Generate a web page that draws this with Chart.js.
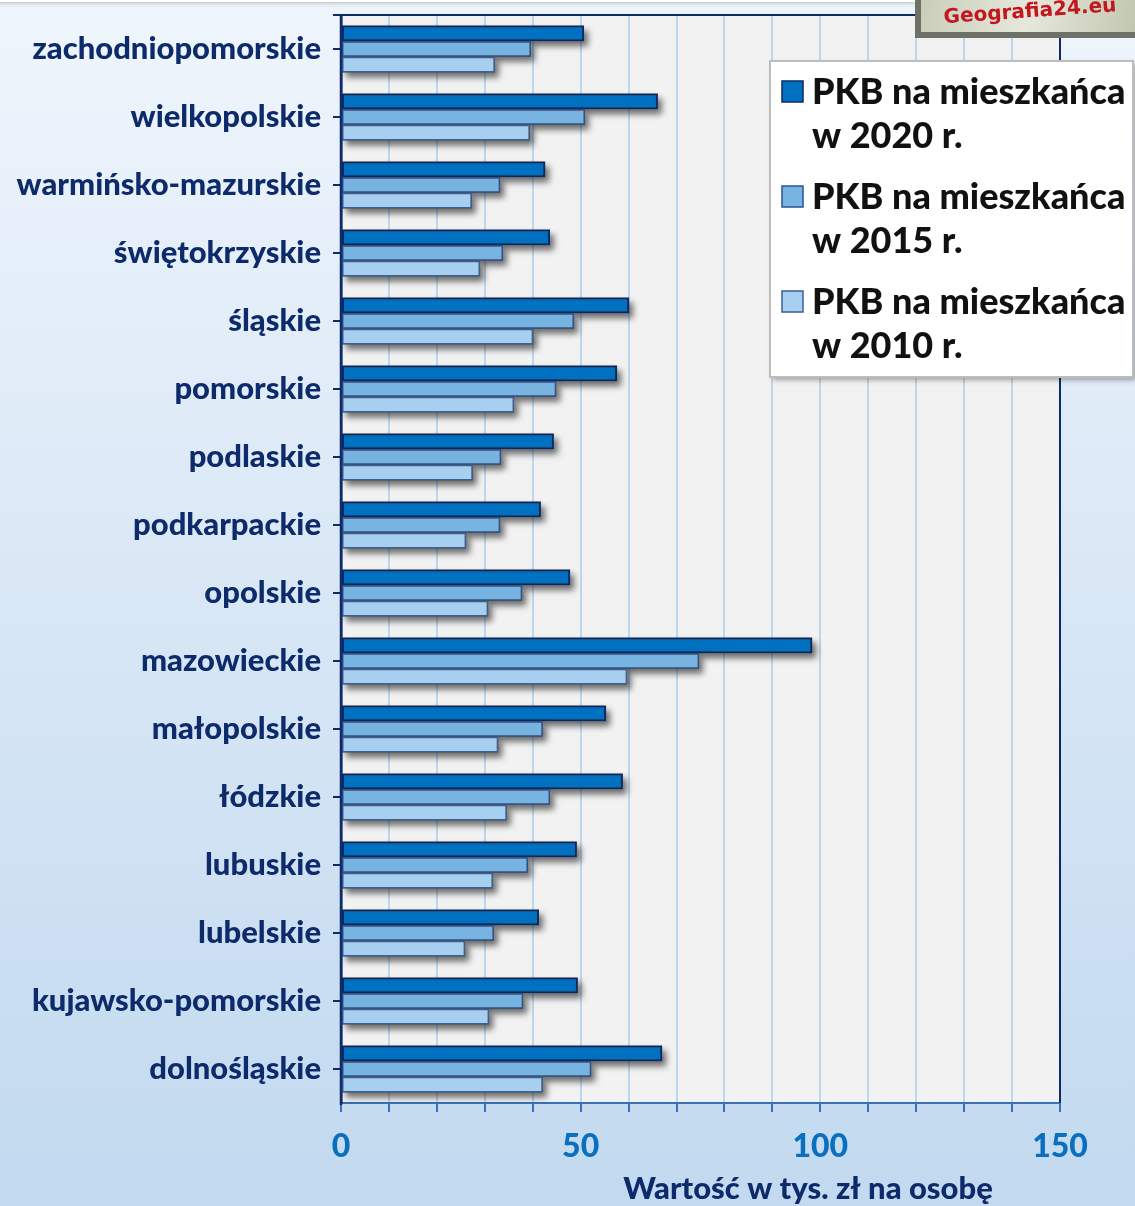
<!DOCTYPE html>
<html>
<head>
<meta charset="utf-8">
<script src="https://cdn.jsdelivr.net/npm/chart.js@4.4.1/dist/chart.umd.min.js"></script>
<style>
    html, body { margin: 0; padding: 0; background: #dfeaf6; }
    #wrap { width: 1135px; height: 1206px; }
</style>
</head>
<body>
<div id="wrap"><canvas id="chart" width="1135" height="1206"></canvas></div>
<script>
// dane - PKB na mieszkańca (tys. zł)
const regions = [
    'zachodniopomorskie', 'wielkopolskie', 'warmińsko-mazurskie', 'świętokrzyskie',
    'śląskie', 'pomorskie', 'podlaskie', 'podkarpackie', 'opolskie', 'mazowieckie',
    'małopolskie', 'łódzkie', 'lubuskie', 'lubelskie', 'kujawsko-pomorskie', 'dolnośląskie'
];
const pkb2020 = [50.7, 66.1, 42.6, 43.6, 60.1, 57.6, 44.4, 41.7, 47.8, 98.3, 55.3, 58.8, 49.2, 41.3, 49.4, 67.0];
const pkb2015 = [39.6, 50.9, 33.2, 33.8, 48.6, 44.9, 33.4, 33.2, 37.8, 74.7, 42.1, 43.6, 39.0, 31.9, 38.0, 52.2];
const pkb2010 = [32.1, 39.4, 27.3, 29.0, 40.1, 36.1, 27.5, 26.1, 30.7, 59.7, 32.8, 34.6, 31.7, 25.9, 30.9, 42.1];
const seriesNames = ['PKB na mieszkańca|w 2020 r.', 'PKB na mieszkańca|w 2015 r.', 'PKB na mieszkańca|w 2010 r.'];
const xLabels = [0, 50, 100, 150];
const axisTitle = 'Wartość w tys. zł na osobę';

const FONT = 'Lato, "Open Sans", sans-serif';
const NAVY = '#0d2a6b';

// tło, pasek u góry, pole wykresu
const bgPlugin = {
    id: 'bg',
    beforeDraw(chart) {
        const ctx = chart.ctx, a = chart.chartArea;
        ctx.save();
        const g = ctx.createLinearGradient(0, 0, 0, chart.height);
        g.addColorStop(0, '#eff5fc');
        g.addColorStop(1, '#c2d9ef');
        ctx.fillStyle = g;
        ctx.fillRect(0, 0, chart.width, chart.height);
        // biały pasek u góry
        ctx.shadowColor = 'rgba(0,0,0,0.25)';
        ctx.shadowBlur = 4;
        ctx.shadowOffsetY = 1;
        ctx.fillStyle = '#ffffff';
        ctx.fillRect(-10, -10, 925, 12);
        ctx.restore();
        ctx.fillStyle = '#f2f2f2';
        ctx.fillRect(a.left, a.top, a.right - a.left, a.bottom - a.top);
    }
};

// cienie pod słupkami
const shadowPlugin = {
    id: 'barShadow',
    beforeDatasetsDraw(chart) {
        const ctx = chart.ctx;
        ctx.save();
        ctx.shadowColor = 'rgba(0,0,0,0.55)';
        ctx.shadowBlur = 6;
        ctx.shadowOffsetX = 4;
        ctx.shadowOffsetY = 5;
        ctx.fillStyle = 'rgba(80,80,80,1)';
        chart.data.datasets.forEach(function (ds, i) {
            chart.getDatasetMeta(i).data.forEach(function (bar) {
                const p = bar.getProps(['x', 'y', 'base', 'height'], true);
                ctx.fillRect(p.base, p.y - p.height / 2, p.x - p.base, p.height);
            });
        });
        ctx.restore();
    },
    afterDatasetsDraw(chart) {
        // ramka pola wykresu
        const ctx = chart.ctx, a = chart.chartArea;
        ctx.save();
        ctx.strokeStyle = NAVY;
        ctx.lineWidth = 2;
        ctx.beginPath();
        ctx.moveTo(a.left - 8, a.top);
        ctx.lineTo(a.right, a.top);
        ctx.lineTo(a.right, a.bottom);
        ctx.stroke();
        ctx.lineWidth = 2.5;
        ctx.beginPath();
        ctx.moveTo(a.left, a.top);
        ctx.lineTo(a.left, a.bottom + 2);
        ctx.stroke();
        ctx.restore();
    }
};

// legenda, tytuł osi, logo
const extrasPlugin = {
    id: 'extras',
    afterDraw(chart) {
        const ctx = chart.ctx;
        ctx.save();

        // logo
        ctx.fillStyle = '#6f7068';
        ctx.fillRect(915, -6, 230, 44);
        const lg = ctx.createLinearGradient(920, 0, 1135, 30);
        lg.addColorStop(0, '#c9cdb8');
        lg.addColorStop(0.5, '#e6e8dc');
        lg.addColorStop(1, '#c2c7b0');
        ctx.fillStyle = lg;
        ctx.fillRect(921, -6, 220, 38);
        ctx.save();
        ctx.translate(1030, 12);
        ctx.rotate(-0.07);
        ctx.fillStyle = '#c3161f';
        ctx.font = 'bold 20px "DejaVu Sans", sans-serif';
        ctx.textAlign = 'center';
        ctx.textBaseline = 'middle';
        ctx.fillText('Geografia24.eu', 0, 0);
        ctx.restore();

        // legenda
        ctx.save();
        ctx.shadowColor = 'rgba(0,0,0,0.35)';
        ctx.shadowBlur = 5;
        ctx.shadowOffsetX = 3;
        ctx.shadowOffsetY = 3;
        ctx.fillStyle = '#ffffff';
        ctx.fillRect(770, 61, 363, 316);
        ctx.restore();
        ctx.strokeStyle = '#bdbdbd';
        ctx.lineWidth = 2;
        ctx.strokeRect(770, 61, 363, 316);

        const rows = [91, 196, 301];
        ctx.font = '900 36px ' + FONT;
        ctx.textAlign = 'left';
        ctx.textBaseline = 'middle';
        chart.data.datasets.forEach(function (ds, i) {
            const y = rows[i];
            ctx.fillStyle = ds.backgroundColor;
            ctx.fillRect(782, y - 10, 21, 21);
            ctx.strokeStyle = ds.borderColor;
            ctx.lineWidth = 1.5;
            ctx.strokeRect(782, y - 10, 21, 21);
            const parts = ds.label.split('|');
            ctx.fillStyle = '#111111';
            ctx.fillText(parts[0], 812, y + 1);
            ctx.fillText(parts[1], 812, y + 45);
        });

        // tytuł osi X
        ctx.fillStyle = NAVY;
        ctx.font = '900 31px ' + FONT;
        ctx.textAlign = 'center';
        ctx.textBaseline = 'middle';
        ctx.fillText(axisTitle, 808, 1189);
        ctx.restore();
    }
};

new Chart(document.getElementById('chart').getContext('2d'), {
    type: 'bar',
    data: {
        labels: regions,
        datasets: [
            { label: seriesNames[0], data: pkb2020, backgroundColor: '#0070c0', borderColor: '#0b2a66', borderWidth: 2 },
            { label: seriesNames[1], data: pkb2015, backgroundColor: '#78b4e2', borderColor: '#2a5393', borderWidth: 1.5 },
            { label: seriesNames[2], data: pkb2010, backgroundColor: '#a7d0f0', borderColor: '#3d5f99', borderWidth: 1.5 }
        ]
    },
    options: {
        indexAxis: 'y',
        responsive: false,
        animation: false,
        datasets: {
            bar: { barPercentage: 1.0, categoryPercentage: 0.69, borderSkipped: false }
        },
        layout: { padding: { top: 15, right: 75, left: 0, bottom: 0 } },
        plugins: {
            legend: { display: false },
            tooltip: { enabled: false }
        },
        scales: {
            x: {
                min: 0,
                max: 150,
                afterFit: function (scale) { scale.height = 103; },
                ticks: {
                    stepSize: 10,
                    autoSkip: false,
                    maxRotation: 0,
                    padding: 15,
                    color: '#0a6fbe',
                    font: { family: FONT, size: 32, weight: '900' },
                    callback: function (v) { return xLabels.includes(v) ? String(v) : ''; }
                },
                grid: {
                    color: '#bcd6ee',
                    lineWidth: 2,
                    tickColor: '#3a72b5',
                    tickLength: 9
                },
                border: { color: '#3a72b5', width: 2 }
            },
            y: {
                afterFit: function (scale) {
                    scale.width = 341;
                    scale.paddingTop = 0;
                    scale.paddingBottom = 0;
                },
                ticks: {
                    padding: 12,
                    color: NAVY,
                    font: { family: FONT, size: 31, weight: '900' }
                },
                grid: {
                    offset: false,
                    drawOnChartArea: false,
                    tickLength: 8,
                    tickColor: NAVY,
                    lineWidth: 2
                },
                border: { color: NAVY, width: 2.5 }
            }
        }
    },
    plugins: [bgPlugin, shadowPlugin, extrasPlugin]
});
</script>
</body>
</html>
